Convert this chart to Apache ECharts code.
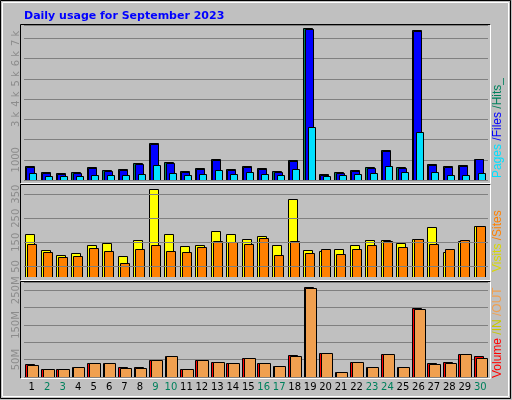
<!DOCTYPE html>
<html><head><meta charset="utf-8">
<script src="https://cdn.jsdelivr.net/npm/echarts@6/dist/echarts.min.js"></script>
<style>html,body{margin:0;padding:0;background:#c0c0c0}#c{width:512px;height:400px}</style>
</head><body><div id="c"></div>
<script>
const days = ['1','2','3','4','5','6','7','8','9','10','11','12','13','14','15','16','17','18','19','20','21','22','23','24','25','26','27','28','29','30'];
const weekend = ['2','3','9','10','16','17','23','24','30'];
const hits  = [672,377,328,410,623,475,525,820,1852,869,426,574,1016,525,672,574,426,967,7508,279,377,475,623,1459,623,7410,770,672,721,1016];
const files = [622,327,290,370,575,430,480,770,1800,820,380,525,966,475,622,525,380,917,7450,235,330,430,575,1410,575,7350,720,622,672,1016];
const pages = [328,180,180,180,230,230,230,279,721,328,230,279,475,279,377,279,230,525,2640,180,230,279,328,672,377,2393,377,230,230,328];
const visits = [185,119,97,107,140,148,93,159,372,185,136,140,198,185,165,177,140,330,119,115,122,140,159,159,148,163,214,111,156,217];
const sites  = [144,111,90,94,127,115,65,123,140,115,111,131,156,152,144,169,98,156,107,122,102,123,140,156,131,163,144,123,159,217];
const volume = [36.5,24,24,30,39.4,39.4,30,30,50,59.6,24,50,44,41,55.8,39.4,32.7,62.5,260.6,70,15.4,44,30,65.4,30,198,41.3,44.2,65.4,59.6];
const outv   = [35.6,24,24,30,39.4,39.4,27,27,50,59.6,24,50,44,41,55.8,39.4,32.7,59.6,257.7,70,15.4,44,30,65.4,30,195,38.5,41.3,65.4,55.8];
const topLabels = [1000,3000,4000,5000,6000,7000];
const midLabels = [50,150,250,350];
const botLabels = [50,150,250];

function barSeries(name, vals, grid, dx, w, color, base){
  return {type:'custom', name, xAxisIndex:grid, yAxisIndex:grid, clip:true,
    data: vals.map((v,i)=>[i,v]),
    renderItem:(p,api)=>{
      const t = api.coord([api.value(0), api.value(1)]);
      const b = api.coord([api.value(0), base]);
      return {type:'rect', shape:{x:Math.round(t[0]+dx)+0.5, y:Math.round(t[1])+0.5, width:w, height:Math.round(b[1]-t[1])},
        style:{fill:color, stroke:'#000', lineWidth:1}};
    }};
}
const lblStyle = {rotate:90, color:'#8c8c8c', fontSize:10, fontFamily:'DejaVu Sans', margin:3};
const gridL = 24, gridR = 24;
const xAx = (i, show) => ({type:'category', gridIndex:i, data:days, boundaryGap:true,
  axisLine:{show:false}, axisTick:{show:false},
  axisLabel:{show:show, interval:0, fontSize:10, fontFamily:'DejaVu Sans', margin:5,
    color:(v)=> weekend.includes(v)?'#00805c':'#000'}});
const chart = echarts.init(document.getElementById('c'));
chart.setOption({
  animation:false,
  backgroundColor:'#c0c0c0',
  title:{text:'Daily usage for September 2023', left:19, top:6,
    textStyle:{color:'#0000ff', fontSize:11, fontWeight:'bold', fontFamily:'DejaVu Sans'}},
  grid:[
    {left:gridL, right:gridR, top:25, height:155},
    {left:gridL, right:gridR, top:184, height:93},
    {left:gridL, right:gridR, top:282, height:95}
  ],
  xAxis:[xAx(0,false), xAx(1,false), xAx(2,true)],
  yAxis:[
    {type:'value', gridIndex:0, min:0, max:7656, interval:1000,
      axisLine:{show:false}, axisTick:{show:false},
      splitLine:{lineStyle:{color:'#808080', width:1}},
      axisLabel:Object.assign({customValues:topLabels, formatter:v=> v===1000?'1000':(v/1000)+' k'}, lblStyle)},
    {type:'value', gridIndex:1, min:6, max:392,
      axisLine:{show:false}, axisTick:{show:false}, splitLine:{show:false},
      axisLabel:Object.assign({customValues:midLabels}, lblStyle)},
    {type:'value', gridIndex:2, min:0, max:274, interval:50,
      axisLine:{show:false}, axisTick:{show:false},
      splitLine:{lineStyle:{color:'#808080', width:1}},
      axisLabel:Object.assign({customValues:botLabels, formatter:v=>v+'M'}, lblStyle)}
  ],
  series:[
    barSeries('Hits', hits, 0, -6.7, 9, '#00805c', 0),
    barSeries('Files', files, 0, -5.4, 8, '#0000ff', 0),
    barSeries('Pages', pages, 0, -2.4, 7, '#00e0ff', 0),
    barSeries('Visits', visits, 1, -6.7, 9, '#ffff00', 6),
    barSeries('Sites', sites, 1, -4.7, 9, '#ff8000', 6),
    barSeries('Volume', volume, 2, -6.4, 9, '#ff0000', 0),
    barSeries('OUT', outv, 2, -4.7, 11, '#f0a050', 0),
    {type:'line', xAxisIndex:1, yAxisIndex:1, data:[], symbol:'none',
      markLine:{silent:true, symbol:'none', label:{show:false},
        lineStyle:{color:'#808080', type:'solid', width:1},
        data: midLabels.map(v=>({yAxis:v}))}}
  ],
  graphic:[
    {type:'rect', z:-1, shape:{x:0.5,y:0.5,width:510,height:398}, style:{fill:'none', stroke:'#000', lineWidth:1}},
    {type:'rect', z:-1, shape:{x:2.5,y:2.5,width:506,height:394}, style:{fill:'none', stroke:'#fff', lineWidth:1}},
    {type:'polyline', z:5, shape:{points:[[20.5,183.5],[20.5,24.5],[490.5,24.5]]}, style:{stroke:'#000', fill:'none'}},
    {type:'polyline', z:5, shape:{points:[[490.5,24.5],[490.5,183.5],[20.5,183.5]]}, style:{stroke:'#fff', fill:'none'}},
    {type:'polyline', z:5, shape:{points:[[20.5,280.5],[20.5,184.5],[490.5,184.5]]}, style:{stroke:'#000', fill:'none'}},
    {type:'polyline', z:5, shape:{points:[[490.5,184.5],[490.5,280.5],[20.5,280.5]]}, style:{stroke:'#fff', fill:'none'}},
    {type:'polyline', z:5, shape:{points:[[20.5,378.5],[20.5,281.5],[490.5,281.5]]}, style:{stroke:'#000', fill:'none'}},
    {type:'polyline', z:5, shape:{points:[[490.5,281.5],[490.5,378.5],[20.5,378.5]]}, style:{stroke:'#fff', fill:'none'}},
    {type:'text', x:492, y:178, rotation:Math.PI/2, style:{
      text:'{a|Pages }{b|/Files }{c|/Hits_}', fontSize:12, fontFamily:'DejaVu Sans',
      rich:{a:{fill:'#00e0ff',fontSize:12},b:{fill:'#0000ff',fontSize:12},c:{fill:'#00805c',fontSize:12}}}},
    {type:'text', x:492, y:272, rotation:Math.PI/2, style:{
      text:'{a|Visits }{b|/Sites}', fontSize:12, fontFamily:'DejaVu Sans',
      rich:{a:{fill:'#d8d800',fontSize:12},b:{fill:'#ff8000',fontSize:12}}}},
    {type:'text', x:492, y:378, rotation:Math.PI/2, style:{
      text:'{a|Volume }{b|/IN }{c|/OUT}', fontSize:12, fontFamily:'DejaVu Sans',
      rich:{a:{fill:'#ff0000',fontSize:12},b:{fill:'#c8c800',fontSize:12},c:{fill:'#f0a050',fontSize:12}}}}
  ]
});
</script></body></html>
